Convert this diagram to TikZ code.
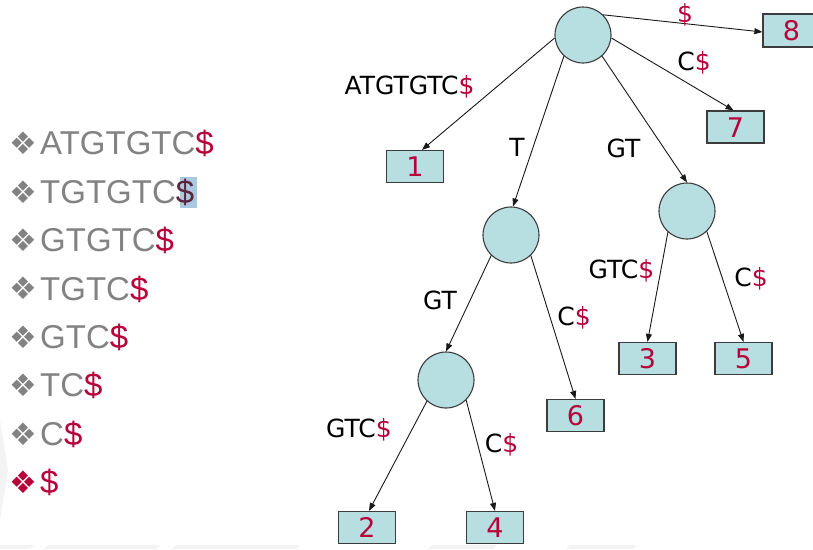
\documentclass[tikz,border=0pt]{standalone}
\usepackage{fontspec}
\setmainfont{Liberation Sans}
\newfontfamily\treefont{DejaVu Sans}
\usetikzlibrary{arrows.meta}

\definecolor{nodefill}{HTML}{B7DEE1}
\definecolor{nodeline}{HTML}{3C3C3C}
\definecolor{dollar}{HTML}{B8003A}
\definecolor{listgrey}{HTML}{828282}
\definecolor{selbg}{HTML}{A8C9E1}
\definecolor{seltext}{HTML}{5C2438}
\definecolor{faint}{HTML}{F3F3F3}

\newcommand{\dol}{\textcolor{dollar}{\$}}

\tikzset{
  inner/.style={circle, draw=nodeline, fill=nodefill, line width=1.1pt,
    minimum size=56pt, inner sep=0pt},
  leaf/.style={rectangle, draw=nodeline, fill=nodefill, line width=1.2pt,
    minimum width=57pt, minimum height=32pt, inner sep=0pt,
    text=dollar, font=\treefont\fontsize{27}{30}\selectfont,
    text height=20pt, text depth=0pt},
  edgelabel/.style={inner sep=0pt, text height=18pt, text depth=0pt,
    font=\treefont\fontsize{25}{30}\selectfont},
  edge/.style={draw=black!90, line width=0.9pt,
    -{Triangle[length=8pt,width=6pt]}},
  listtext/.style={anchor=west, inner sep=0pt, text height=23.6pt,
    text depth=0pt, text=listgrey, font=\fontsize{33}{38}\selectfont},
  bullet/.style={inner sep=0pt, text=listgrey,
    font=\treefont\fontsize{31}{34}\selectfont}
}

\begin{document}
\begin{tikzpicture}[x=1pt, y=-1pt]
  \useasboundingbox (0,0) rectangle (813,549);
  \fill[white] (0,0) rectangle (813,549);

  % faint background band
  \fill[faint] (0,545) -- (34,545) -- (30,549) -- (0,549) -- cycle;
  \fill[faint] (48,545) -- (160,545) -- (156,549) -- (44,549) -- cycle;
  \fill[faint] (176,545) -- (300,545) -- (296,549) -- (172,549) -- cycle;
  \fill[faint] (432,545) -- (497,545) -- (493,549) -- (428,549) -- cycle;
  \fill[faint] (570,545) -- (637,545) -- (633,549) -- (566,549) -- cycle;
  \fill[faint] (0,420) -- (8,470) -- (0,520) -- cycle;

  % suffix list
  \foreach \i/\txt in {1/ATGTGTC, 3/GTGTC, 4/TGTC, 5/GTC, 6/TC, 7/C}{
    \node[bullet] (bul\i) at (23.5,{143.5+48.4*(\i-1)}) {❖};
    \node[listtext] (suf\i) at (40,{143+48.4*(\i-1)}) {\txt\dol};
  }
  \node[bullet] (bul2) at (23.5,191.9) {❖};
  \fill[selbg] (180,177) rectangle (197,208);
  \node[listtext] (suf2) at (40,191.4) {TGTGTC\textcolor{seltext}{\$}};
  \node[bullet, text=dollar] (bul8) at (23.5,482.3) {❖};
  \node[listtext] (suf8) at (40,481.8) {\dol};

  % suffix tree nodes
  \node[inner] (root) at (583,35) {};
  \node[inner] (tn)   at (511,235) {};
  \node[inner] (gtn)  at (687,211) {};
  \node[inner] (tgtn) at (446,380) {};

  \node[leaf] (b1) at (415,166.5) {1};
  \node[leaf] (b2) at (367,527.5) {2};
  \node[leaf] (b3) at (647.5,358.5) {3};
  \node[leaf] (b4) at (495,527.5) {4};
  \node[leaf] (b5) at (743.5,358.5) {5};
  \node[leaf] (b6) at (575.5,415.5) {6};
  \node[leaf] (b7) at (735.5,127) {7};
  \node[leaf, minimum height=33pt] (b8) at (791.5,30.5) {8};

  % edges
  \draw[edge] (root.186) -- ([xshift=7pt]b1.north);
  \draw[edge] (root.228) -- (tn.86);
  \draw[edge] (root.312) -- (gtn.north);
  \draw[edge] (root.354) -- ([xshift=-2pt]b7.north);
  \draw[edge] (root.45)  -- ([yshift=-1.5pt]b8.west);

  \draw[edge] (tn.226) -- (tgtn.north);
  \draw[edge] (tn.314) -- (b6.north);

  \draw[edge] (gtn.228) -- (b3.north);
  \draw[edge] (gtn.314) -- (b5.north);

  \draw[edge] (tgtn.228) -- ([xshift=2pt]b2.north);
  \draw[edge] (tgtn.315) -- (b4.north);

  % edge labels
  \node[edgelabel] (l8)   at (685,13)    {\dol};
  \node[edgelabel] (l7)   at (694,61)    {C\dol};
  \node[edgelabel] (l1)   at (409.5,85)  {ATGTGTC\dol};
  \node[edgelabel] (lt)   at (517,147.5) {T};
  \node[edgelabel] (lgt)  at (623.5,148) {GT};
  \node[edgelabel] (lgt2) at (440,300.5) {GT};
  \node[edgelabel] (l6)   at (574,316.5) {C\dol};
  \node[edgelabel] (l3)   at (621.5,269) {GTC\dol};
  \node[edgelabel] (l5)   at (751,277.5) {C\dol};
  \node[edgelabel] (l2)   at (359,428.5) {GTC\dol};
  \node[edgelabel] (l4)   at (501.5,443.5) {C\dol};
\end{tikzpicture}
\end{document}
